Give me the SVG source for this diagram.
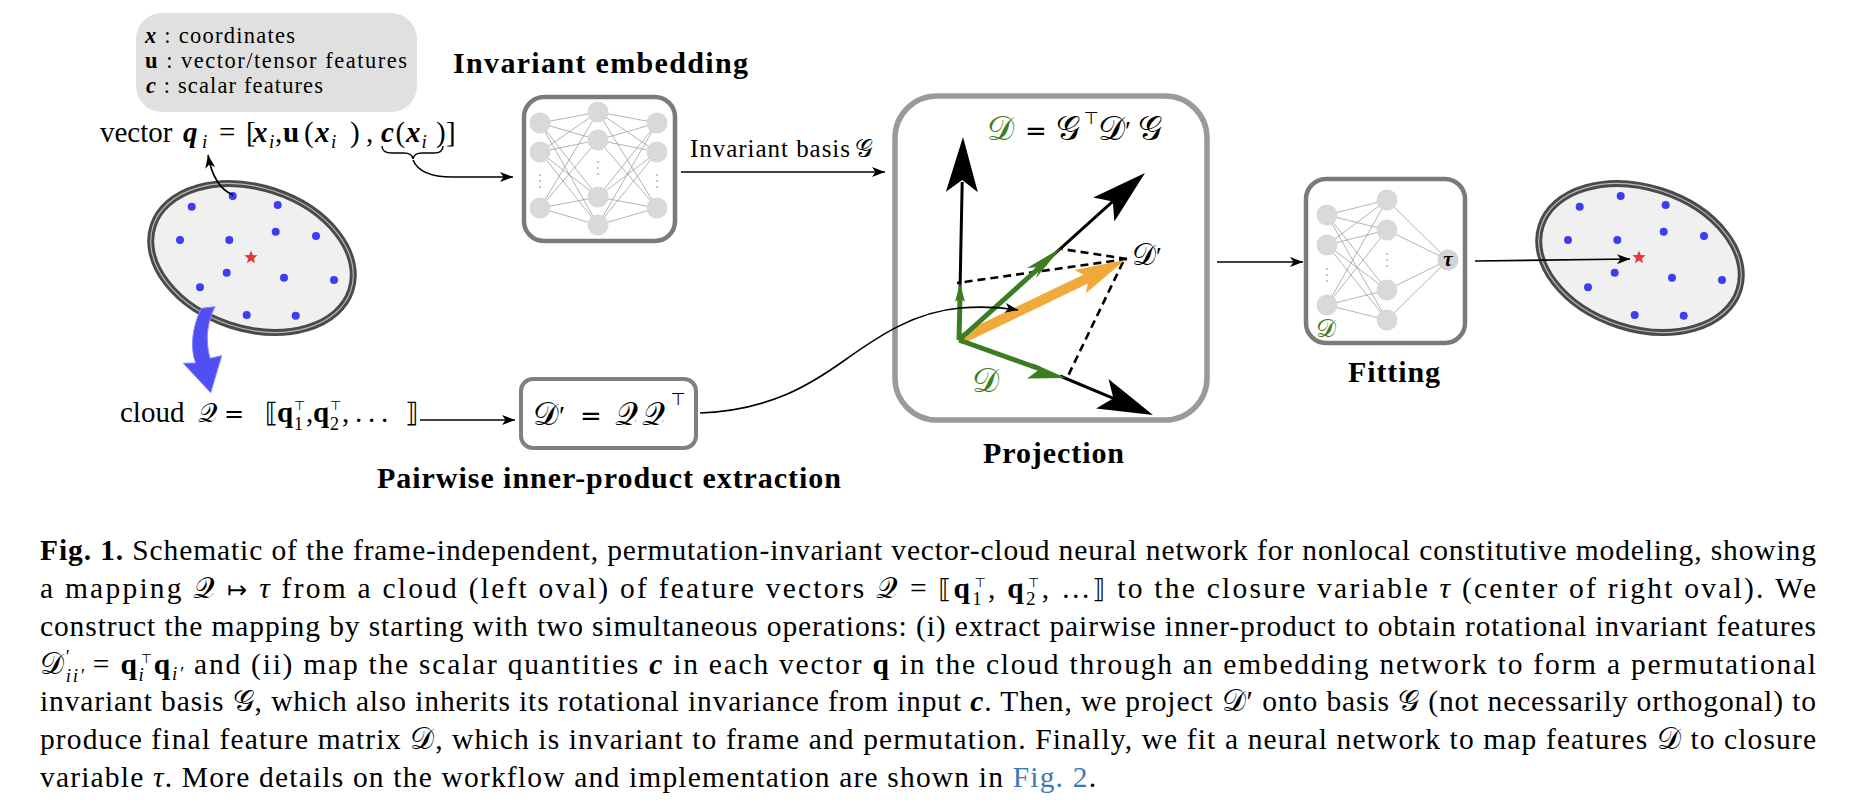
<svg xmlns="http://www.w3.org/2000/svg" xmlns:xlink="http://www.w3.org/1999/xlink" width="1850" height="808" viewBox="0 0 1850 808">
<style>
text{font-family:"Liberation Serif","Times New Roman",serif;fill:#000}
.cap{font-size:29.5px}
.lbl{font-size:30px;font-weight:bold}
.leg{font-size:22.5px}
.cal{font-family:"DejaVu Serif","DejaVu Sans",serif;font-style:normal;font-weight:normal}
.sym{font-family:"DejaVu Sans",sans-serif;font-weight:normal;font-style:normal}
.b{font-weight:bold}
.bi{font-weight:bold;font-style:italic}
.i{font-style:italic}
.gt{fill:#3a7d22}
.nn{fill:#d9d9d9}
.w{stroke:#a0a0a0;stroke-width:0.8;fill:none}
.vd{fill:#aaa}
.box{fill:#fff;stroke:#7a7a7a;stroke-width:4.5}
.dot{fill:#3d3df2}
.ell{fill:#f0f0f0;stroke:#4a4a4a;stroke-width:7}
.ell2{fill:none;stroke:#b8b8b8;stroke-width:1.2}
.conn{fill:none;stroke:#000;stroke-width:1.6}
.dash{fill:none;stroke:#000;stroke-width:2.6;stroke-dasharray:8 5}
.blk{fill:none;stroke:#000;stroke-width:3}
.grn{fill:none;stroke:#3a7d22;stroke-width:5}
</style>
<defs>
<marker id="ah" markerUnits="userSpaceOnUse" markerWidth="14" markerHeight="10" refX="13" refY="5" orient="auto"><path d="M0,0 L13,5 L0,10 L3.5,5 Z" fill="#000"/></marker>
<g id="cloud">
<ellipse cx="252" cy="258" rx="104" ry="70.5" transform="rotate(18 252 258)" class="ell"/>
<ellipse cx="252" cy="258" rx="104" ry="70.5" transform="rotate(18 252 258)" class="ell2"/>
<circle class="dot" cx="232.7" cy="196" r="4"/>
<circle class="dot" cx="191.7" cy="206.7" r="4"/>
<circle class="dot" cx="277.7" cy="205" r="4"/>
<circle class="dot" cx="180" cy="240" r="4"/>
<circle class="dot" cx="229.3" cy="240" r="4"/>
<circle class="dot" cx="275.7" cy="231.7" r="4"/>
<circle class="dot" cx="316" cy="236" r="4"/>
<circle class="dot" cx="226.7" cy="272.7" r="4"/>
<circle class="dot" cx="284" cy="277.7" r="4"/>
<circle class="dot" cx="334" cy="280" r="4"/>
<circle class="dot" cx="200" cy="287.3" r="4"/>
<circle class="dot" cx="246.7" cy="315" r="4"/>
<circle class="dot" cx="295.7" cy="315.7" r="4"/>
<path transform="translate(251 257.5)" fill="#e53935" d="M0,-7 L1.76,-2.43 L6.66,-2.16 L2.85,0.93 L4.11,5.66 L0,3 L-4.11,5.66 L-2.85,0.93 L-6.66,-2.16 L-1.76,-2.43 Z"/>
</g>
</defs>

<!-- legend -->
<g id="legend">
<rect x="136" y="13" width="281" height="99" rx="26" fill="#e0e0e0"/>
<text class="leg" x="145" y="43" textLength="150" lengthAdjust="spacing"><tspan class="bi">x</tspan> : coordinates</text>
<text class="leg" x="145" y="68" textLength="262" lengthAdjust="spacing"><tspan class="b">u</tspan> : vector/tensor features</text>
<text class="leg" x="146" y="93" textLength="177" lengthAdjust="spacing"><tspan class="bi">c</tspan> : scalar features</text>
</g>

<!-- vector label -->
<g id="vector-label">
<text font-size="29"><tspan x="100" y="142">vector</tspan><tspan x="183" class="bi">q</tspan><tspan x="202" y="148" font-size="19" class="i">i</tspan><tspan x="219" y="142">=</tspan><tspan x="246">[</tspan><tspan x="253" class="bi">x</tspan><tspan x="269" y="148" font-size="19" class="i">i</tspan><tspan x="275" y="142">,</tspan><tspan x="283" class="b">u</tspan><tspan x="304">(</tspan><tspan x="315" class="bi">x</tspan><tspan x="331" y="148" font-size="19" class="i">i</tspan><tspan x="350" y="142">)</tspan><tspan x="366">,</tspan><tspan x="381" class="bi">c</tspan><tspan x="395.5">(</tspan><tspan x="406" class="bi">x</tspan><tspan x="421.5" y="148" font-size="19" class="i">i</tspan><tspan x="436" y="142">)</tspan><tspan x="446">]</tspan></text>
<path d="M382,146 Q382,153 392,153 L404,153 Q412,153 413,159 Q414,153 422,153 L434,153 Q443,153 443,146" fill="none" stroke="#000" stroke-width="1.4"/>
</g>

<!-- left cloud -->
<g id="cloud-left">
<use xlink:href="#cloud" href="#cloud"/>
<path d="M201.7,308.3 C194,322 189,345 195.7,363 L183.3,363.3 L210.7,392.7 L221.7,355.7 L210,358.3 C205,340 207,322 215,306.7 Z" fill="#4f4ff4" stroke="#8585ff" stroke-width="1"/>
</g>

<!-- invariant embedding network -->
<g id="embedding">
<text class="lbl" x="453" y="73" textLength="295" lengthAdjust="spacing">Invariant embedding</text>
<rect class="box" x="524" y="97" width="151" height="144" rx="20"/>
<path class="w" d="M540,123L598,112M540,123L598,140M540,123L598,197M540,123L598,225M540,152L598,112M540,152L598,140M540,152L598,197M540,152L598,225M540,208L598,112M540,208L598,140M540,208L598,197M540,208L598,225M598,112L657,123M598,112L657,152M598,112L657,208M598,140L657,123M598,140L657,152M598,140L657,208M598,197L657,123M598,197L657,152M598,197L657,208M598,225L657,123M598,225L657,152M598,225L657,208"/>
<circle class="nn" cx="540" cy="123" r="10.5"/><circle class="nn" cx="540" cy="152" r="10.5"/><circle class="nn" cx="540" cy="208" r="10.5"/>
<circle class="nn" cx="598" cy="112" r="10.5"/><circle class="nn" cx="598" cy="140" r="10.5"/><circle class="nn" cx="598" cy="197" r="10.5"/><circle class="nn" cx="598" cy="225" r="10.5"/>
<circle class="nn" cx="657" cy="123" r="10.5"/><circle class="nn" cx="657" cy="152" r="10.5"/><circle class="nn" cx="657" cy="208" r="10.5"/>
<circle class="vd" cx="540" cy="175" r="0.9"/><circle class="vd" cx="540" cy="181" r="0.9"/><circle class="vd" cx="540" cy="187" r="0.9"/>
<circle class="vd" cx="598" cy="162" r="0.9"/><circle class="vd" cx="598" cy="168" r="0.9"/><circle class="vd" cx="598" cy="174" r="0.9"/>
<circle class="vd" cx="657" cy="175" r="0.9"/><circle class="vd" cx="657" cy="181" r="0.9"/><circle class="vd" cx="657" cy="187" r="0.9"/>
</g>

<!-- cloud label -->
<g id="cloud-label">
<text font-size="29"><tspan x="120" y="422">cloud</tspan><tspan x="198" class="cal" font-size="27">𝒬</tspan><tspan x="224" class="sym" font-size="24">=</tspan><tspan x="265" class="sym" font-size="27">⟦</tspan><tspan x="277" class="b">q</tspan><tspan x="294" y="430" font-size="18">1</tspan><tspan x="294" y="410" class="sym" font-size="13">⊤</tspan><tspan x="306" y="422">,</tspan><tspan x="313" class="b">q</tspan><tspan x="330" y="430" font-size="18">2</tspan><tspan x="330" y="410" class="sym" font-size="13">⊤</tspan><tspan x="342" y="422">,</tspan><tspan x="355">.</tspan><tspan x="368">.</tspan><tspan x="381">.</tspan><tspan x="405" class="sym" font-size="27">⟧</tspan></text>
</g>

<!-- pairwise box -->
<g id="pairwise">
<rect x="521" y="379" width="175" height="69" rx="12" fill="#fff" stroke="#808080" stroke-width="4"/>
<text font-size="32"><tspan x="533" y="425" class="cal">𝒟</tspan><tspan x="559" font-size="28">′</tspan><tspan x="580" class="sym" font-size="26">=</tspan><tspan x="615" class="cal">𝒬</tspan><tspan x="642" class="cal">𝒬</tspan><tspan x="671" y="405" class="sym" font-size="17">⊤</tspan></text>
<text class="lbl" x="377" y="488" textLength="464" lengthAdjust="spacing">Pairwise inner-product extraction</text>
</g>

<!-- projection -->
<g id="projection">
<rect x="895" y="96" width="312" height="324" rx="42" fill="#fff" stroke="#9a9a9a" stroke-width="5.5"/>
<text font-size="34"><tspan x="987" y="140" class="cal gt">𝒟</tspan><tspan x="1025" class="sym" font-size="26">=</tspan><tspan x="1056" class="cal">𝒢</tspan><tspan x="1084" y="124" class="sym" font-size="17">⊤</tspan><tspan x="1098" y="140" class="cal">𝒟</tspan><tspan x="1125" font-size="28">′</tspan><tspan x="1138" class="cal">𝒢</tspan></text>
<line class="dash" x1="1127" y1="259" x2="1062" y2="249"/>
<line class="dash" x1="1127" y1="259" x2="957" y2="283"/>
<line class="dash" x1="1123" y1="262" x2="1067" y2="378"/>
<line class="blk" x1="959" y1="340" x2="962.2" y2="182"/>
<polygon points="963,137 977.9,192.3 962.2,180 945.9,191.7"/>
<line class="blk" x1="1040" y1="267" x2="1112.8" y2="201.4"/>
<polygon points="1145,173 1093.2,197.4 1112.8,201.4 1114.4,221.4"/>
<line class="blk" x1="1060" y1="376" x2="1113.4" y2="398.3"/>
<polygon points="1153,415 1108.5,379 1113.4,398.3 1096.1,408.4"/>
<line x1="959" y1="340" x2="1090" y2="277" stroke="#f0aa3c" stroke-width="10"/>
<polygon points="1125,260 1074.3,270 1089,277.4 1085.6,293.4" fill="#f0aa3c"/>
<line class="grn" x1="959" y1="340" x2="960" y2="298"/>
<polygon points="960,283 965,302 960,298 955,302" fill="#3a7d22"/>
<line class="grn" x1="959" y1="340" x2="1040" y2="267"/>
<polygon points="1061,248 1036,278 1040,267 1027,268" fill="#3a7d22"/>
<line class="grn" x1="959" y1="340" x2="1040" y2="369"/>
<polygon points="1066,378 1027,378.5 1040,369 1032,363" fill="#3a7d22"/>
<text font-size="30"><tspan x="1132" y="265" class="cal">𝒟</tspan><tspan x="1156" font-size="26">′</tspan></text>
<text x="972" y="392" font-size="34" class="cal gt">𝒟</text>
<text class="lbl" x="983" y="463" textLength="141" lengthAdjust="spacing">Projection</text>
</g>

<!-- fitting -->
<g id="fitting">
<rect class="box" x="1306" y="179" width="159" height="164" rx="20"/>
<path class="w" d="M1327,215L1387,200M1327,215L1387,230M1327,215L1387,290M1327,215L1387,320M1327,245L1387,200M1327,245L1387,230M1327,245L1387,290M1327,245L1387,320M1327,305L1387,200M1327,305L1387,230M1327,305L1387,290M1327,305L1387,320M1387,200L1448,260M1387,230L1448,260M1387,290L1448,260M1387,320L1448,260"/>
<circle class="nn" cx="1327" cy="215" r="10.5"/><circle class="nn" cx="1327" cy="245" r="10.5"/><circle class="nn" cx="1327" cy="305" r="10.5"/>
<circle class="nn" cx="1387" cy="200" r="10.5"/><circle class="nn" cx="1387" cy="230" r="10.5"/><circle class="nn" cx="1387" cy="290" r="10.5"/><circle class="nn" cx="1387" cy="320" r="10.5"/>
<circle cx="1448" cy="260" r="10.5" fill="#d4d4d4"/>
<circle class="vd" cx="1327" cy="269" r="0.9"/><circle class="vd" cx="1327" cy="275" r="0.9"/><circle class="vd" cx="1327" cy="281" r="0.9"/>
<circle class="vd" cx="1387" cy="254" r="0.9"/><circle class="vd" cx="1387" cy="260" r="0.9"/><circle class="vd" cx="1387" cy="266" r="0.9"/>
<text x="1448" y="266" font-size="21" class="bi" text-anchor="middle">τ</text>
<text x="1316" y="337" font-size="25" class="cal gt">𝒟</text>
<text class="lbl" x="1348" y="382" textLength="92" lengthAdjust="spacing">Fitting</text>
</g>

<!-- right cloud -->
<g id="cloud-right">
<use xlink:href="#cloud" href="#cloud" x="1388"/>
</g>

<!-- connectors -->
<g id="connectors">
<path class="conn" d="M233,195 C221,190 212,178 208,155" marker-end="url(#ah)"/>
<path class="conn" d="M413,160 C418,172 432,177 452,177 L513,177" marker-end="url(#ah)"/>
<path class="conn" d="M681,172 L885,172" marker-end="url(#ah)"/>
<text x="690" y="157" font-size="25" textLength="160" lengthAdjust="spacing">Invariant basis</text>
<text x="855" y="157" font-size="25" class="cal">𝒢</text>
<path class="conn" d="M420,420 L515,420" marker-end="url(#ah)"/>
<path class="conn" d="M700,413 C770,410 810,385 845,360 C880,335 915,312 960,308 C985,306 1000,307 1018,310" marker-end="url(#ah)"/>
<path class="conn" d="M1217,262 L1303,262" marker-end="url(#ah)"/>
<path class="conn" d="M1475,261 L1630,259" marker-end="url(#ah)"/>
</g>

<!-- caption -->
<g id="caption" class="cap">
<text x="40" y="560" textLength="1776" lengthAdjust="spacing"><tspan class="b">Fig. 1.</tspan> Schematic of the frame-independent, permutation-invariant vector-cloud neural network for nonlocal constitutive modeling, showing</text>
<text x="40" y="598" textLength="1776" lengthAdjust="spacing">a mapping <tspan class="cal">𝒬</tspan> <tspan class="sym" font-size="24">↦</tspan> <tspan class="i">τ</tspan> from a cloud (left oval) of feature vectors <tspan class="cal">𝒬</tspan> = <tspan class="sym" font-size="26">⟦</tspan><tspan class="b">q</tspan><tspan font-size="19" dy="7">1</tspan><tspan class="sym" font-size="13" dx="-9.5" dy="-18">⊤</tspan><tspan dy="11">, </tspan><tspan class="b">q</tspan><tspan font-size="19" dy="7">2</tspan><tspan class="sym" font-size="13" dx="-9.5" dy="-18">⊤</tspan><tspan dy="11">, …</tspan><tspan class="sym" font-size="26">⟧</tspan> to the closure variable <tspan class="i">τ</tspan> (center of right oval). We</text>
<text x="40" y="636" textLength="1776" lengthAdjust="spacing">construct the mapping by starting with two simultaneous operations: (i) extract pairwise inner-product to obtain rotational invariant features</text>
<text x="40" y="674" textLength="1776" lengthAdjust="spacing"><tspan class="cal">𝒟</tspan><tspan class="i" font-size="19" dy="8">ii′</tspan><tspan font-size="19" dx="-20" dy="-19">′</tspan><tspan dx="12" dy="11"> = </tspan><tspan class="b">q</tspan><tspan class="i" font-size="19" dy="7">i</tspan><tspan class="sym" font-size="13" dx="-5" dy="-18">⊤</tspan><tspan class="b" dy="11">q</tspan><tspan class="i" font-size="19" dy="6">i′</tspan><tspan dy="-6"> and (ii) map the scalar quantities </tspan><tspan class="bi">c</tspan> in each vector <tspan class="b">q</tspan> in the cloud through an embedding network to form a permutational</text>
<text x="40" y="711" textLength="1776" lengthAdjust="spacing">invariant basis <tspan class="cal">𝒢</tspan>, which also inherits its rotational invariance from input <tspan class="bi">c</tspan>. Then, we project <tspan class="cal">𝒟</tspan>′ onto basis <tspan class="cal">𝒢</tspan> (not necessarily orthogonal) to</text>
<text x="40" y="749" textLength="1776" lengthAdjust="spacing">produce final feature matrix <tspan class="cal">𝒟</tspan>, which is invariant to frame and permutation. Finally, we fit a neural network to map features <tspan class="cal">𝒟</tspan> to closure</text>
<text x="40" y="787" textLength="1056" lengthAdjust="spacing">variable <tspan class="i">τ</tspan>. More details on the workflow and implementation are shown in <tspan fill="#3b7bb5">Fig. 2</tspan>.</text>
</g>
</svg>
